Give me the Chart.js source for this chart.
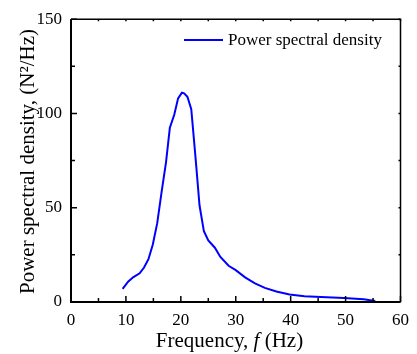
<!DOCTYPE html>
<html>
<head>
<meta charset="utf-8">
<script src="https://cdn.jsdelivr.net/npm/chart.js@4.4.0/dist/chart.umd.min.js"></script>
<style>
  html, body { margin: 0; padding: 0; background: #fff; }
  #wrap { width: 417px; height: 354px; }
</style>
</head>
<body>
<div id="wrap"><canvas id="grafico" width="417" height="354"></canvas></div>
<script>
// frequency (Hz) and PSD (N^2/Hz)
const freq = [9.4, 10.4, 11.3, 12.5, 13.3, 14.1, 14.9, 15.7, 16.5, 17.3, 18.0, 18.8, 19.5, 20.2, 20.6, 21.2, 21.9, 22.7, 23.4, 24.2, 25.0, 26.2, 27.2, 28.7, 30.0, 31.7, 33.5, 35.3, 37.4, 39.8, 42.5, 45.5, 49.7, 53.3, 55.4];
const psd = [7.0, 10.8, 13.1, 15.2, 18.3, 22.7, 30.5, 41.8, 58.4, 74.1, 92.4, 99.3, 108.0, 111.0, 110.7, 108.9, 102.3, 75.8, 51.3, 37.5, 32.6, 28.8, 23.9, 19.2, 16.9, 13.1, 9.9, 7.5, 5.6, 4.0, 3.1, 2.6, 2.1, 1.4, 0.5];
const xTicks = [0, 10, 20, 30, 40, 50, 60];
const yTicks = [0, 50, 100, 150];
const seriesName = "Power spectral density";

const serif = "'Liberation Serif', 'Times New Roman', serif";

// frame, inward ticks, legend and axis titles
const framePlugin = {
    id: "frame",
    afterDraw(chart) {
        const ctx = chart.ctx;
        const a = chart.chartArea;
        const xs = chart.scales.x;
        const ys = chart.scales.y;
        ctx.save();
        ctx.strokeStyle = "#000";
        ctx.lineWidth = 2;
        ctx.beginPath();
        ctx.moveTo(a.left, a.top);
        ctx.lineTo(a.left, a.bottom);
        ctx.lineTo(a.right, a.bottom);
        ctx.stroke();
        ctx.lineWidth = 1.5;
        ctx.beginPath();
        ctx.moveTo(a.left, a.top);
        ctx.lineTo(a.right, a.top);
        ctx.lineTo(a.right, a.bottom);
        ctx.stroke();

        ctx.lineWidth = 1.5;
        ctx.beginPath();
        for (let v = 0; v <= 60; v += 5) {
            const px = xs.getPixelForValue(v);
            const len = v % 10 === 0 ? 6 : 4;
            ctx.moveTo(px, a.bottom);
            ctx.lineTo(px, a.bottom - len);
            ctx.moveTo(px, a.top);
            ctx.lineTo(px, a.top + 2);
        }
        for (let v = 0; v <= 150; v += 25) {
            const py = ys.getPixelForValue(v);
            const len = v % 50 === 0 ? 6 : 4;
            ctx.moveTo(a.left, py);
            ctx.lineTo(a.left + len, py);
            ctx.moveTo(a.right, py);
            ctx.lineTo(a.right - 2, py);
        }
        ctx.stroke();

        // legend
        const ds = chart.data.datasets[0];
        ctx.strokeStyle = ds.borderColor;
        ctx.lineWidth = 2;
        ctx.beginPath();
        ctx.moveTo(184, 40);
        ctx.lineTo(223, 40);
        ctx.stroke();
        ctx.fillStyle = "#000";
        ctx.font = "17px " + serif;
        ctx.textAlign = "left";
        ctx.textBaseline = "middle";
        ctx.fillText(ds.label, 228, 41);

        // x title with italic f
        ctx.textBaseline = "alphabetic";
        const parts = [["Frequency, ", "21px " + serif], ["f", "italic 21px " + serif], [" (Hz)", "21px " + serif]];
        let total = 0;
        parts.forEach(p => { ctx.font = p[1]; total += ctx.measureText(p[0]).width; });
        let x0 = 229.5 - total / 2;
        parts.forEach(p => {
            ctx.font = p[1];
            ctx.fillText(p[0], x0, 347);
            x0 += ctx.measureText(p[0]).width;
        });

        // y title
        ctx.translate(34, 161.5);
        ctx.rotate(-Math.PI / 2);
        ctx.font = "21px " + serif;
        ctx.textAlign = "center";
        ctx.fillText("Power spectral density, (N\u00B2/Hz)", 0, 0);
        ctx.restore();
    }
};

const ctx = document.getElementById("grafico").getContext("2d");
new Chart(ctx, {
    type: "scatter",
    data: {
        datasets: [{
            label: seriesName,
            data: freq.map((f, i) => ({ x: f, y: psd[i] })),
            showLine: true,
            borderColor: "#0000ff",
            backgroundColor: "#0000ff",
            borderWidth: 2,
            pointRadius: 0,
            tension: 0
        }]
    },
    options: {
        responsive: false,
        animation: false,
        layout: { padding: { top: 15, right: 13, left: 0, bottom: 0 } },
        plugins: {
            tooltip: { enabled: false },
            legend: { display: false }
        },
        scales: {
            x: {
                type: "linear",
                min: 0,
                max: 60,
                afterBuildTicks: s => { s.ticks = xTicks.map(v => ({ value: v })); },
                afterFit: s => { s.height = 52; },
                grid: { display: false, drawTicks: false },
                border: { display: false },
                ticks: { padding: 8, color: "#000", font: { family: serif, size: 17 } }
            },
            y: {
                type: "linear",
                min: 0,
                max: 150,
                afterBuildTicks: s => { s.ticks = yTicks.map(v => ({ value: v })); },
                afterFit: s => { s.width = 71; },
                grid: { display: false, drawTicks: false },
                border: { display: false },
                ticks: { padding: 9, color: "#000", font: { family: serif, size: 17 } }
            }
        }
    },
    plugins: [framePlugin]
});
</script>
</body>
</html>
